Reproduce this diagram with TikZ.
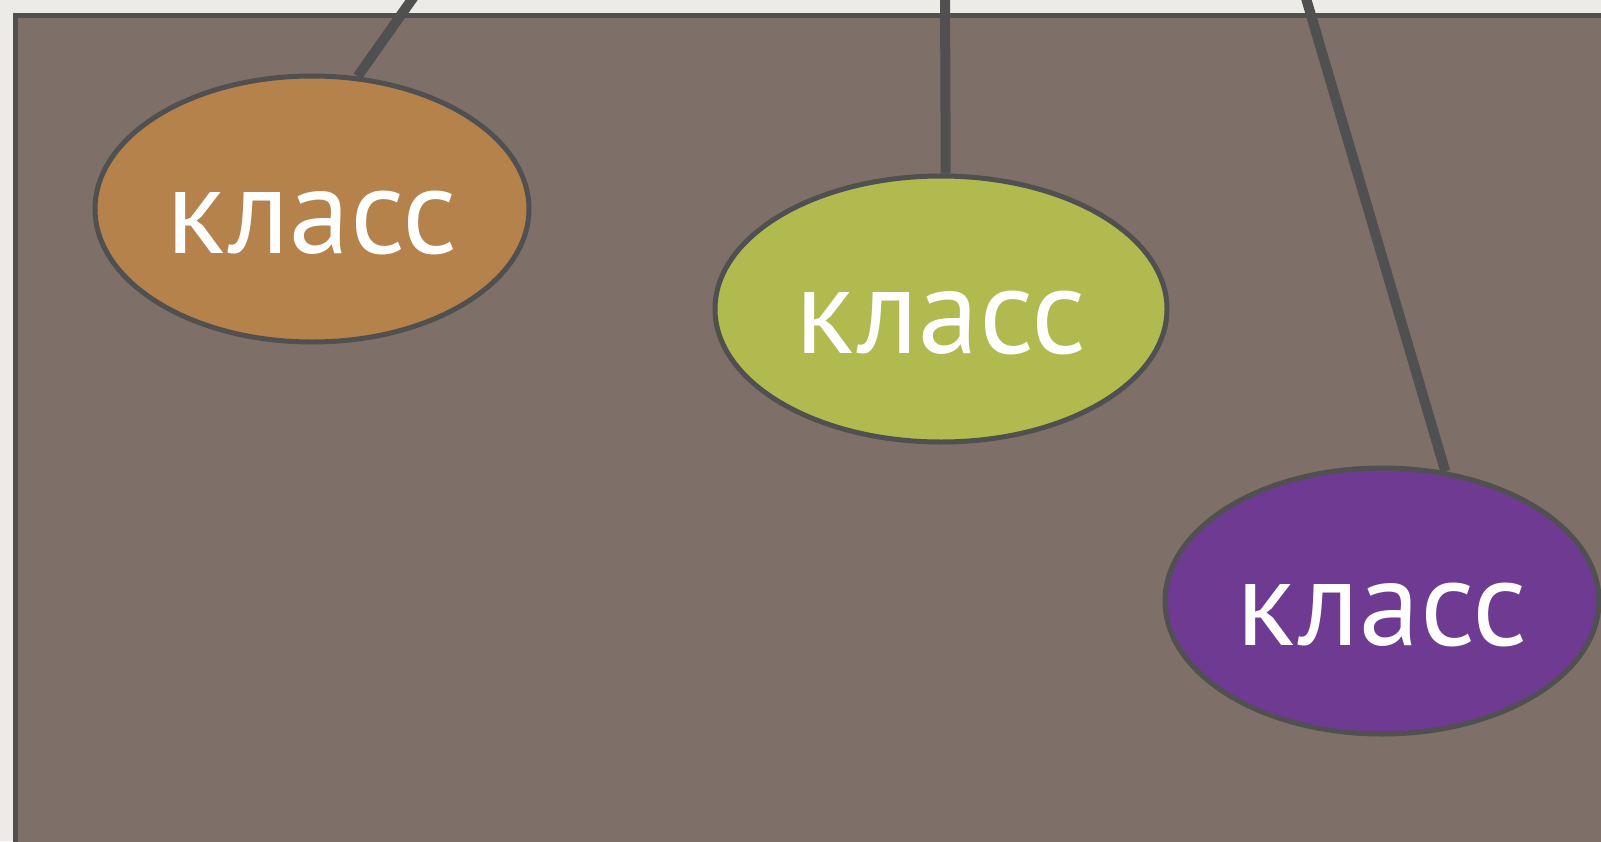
\documentclass[tikz,border=0pt]{standalone}
\usepackage{fontspec}
\setmainfont{PT Sans}
\usetikzlibrary{shapes.geometric}
\definecolor{pagegrey}{RGB}{236,235,232}
\definecolor{boardbrown}{RGB}{126,112,104}
\definecolor{edgegrey}{RGB}{80,80,80}
\definecolor{klassorange}{RGB}{181,130,76}
\definecolor{klassgreen}{RGB}{176,186,78}
\definecolor{klasspurple}{RGB}{110,58,146}
\tikzset{
  klass/.style={draw=edgegrey,line width=5pt,ellipse,inner sep=0pt,
    minimum width=434pt,minimum height=266pt,text=white,
    font=\fontsize{122}{126}\selectfont,text height=88pt,text depth=0pt},
  hanger/.style={draw=edgegrey,line width=10pt}
}

\begin{document}
\begin{tikzpicture}[x=1pt,y=-1pt]
% Hintergrund
\useasboundingbox (0,0) rectangle (1601,841);
\clip (0,0) rectangle (1601,841);
\fill[pagegrey] (0,0) rectangle (1601,841);
\draw[draw=edgegrey,line width=5pt,fill=boardbrown] (15,15) rectangle (1700,950);

\node[klass,fill=klassorange] (k1) at (312,209) {класс};
\node[klass,fill=klassgreen,minimum width=452pt] (k2) at (941,309) {класс};
\node[klass,fill=klasspurple] (k3) at (1382,601) {класс};

\coordinate (top1) at (420,-12);
\coordinate (top2) at (945,-12);
\coordinate (top3) at (1303,-12);

\draw[hanger] (top1) -- (k1.71);
\draw[hanger] (top2) -- (k2.88);
\draw[hanger] (top3) -- (k3.64);
\end{tikzpicture}
\end{document}
